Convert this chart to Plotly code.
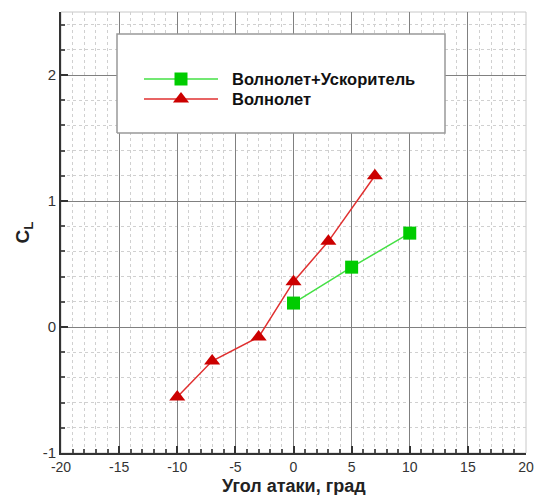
import plotly.graph_objects as go

# Data
alpha_wu = [0, 5, 10]
cl_wu = [0.19, 0.475, 0.745]
alpha_w = [-10, -7, -3, 0, 3, 7]
cl_w = [-0.555, -0.27, -0.08, 0.36, 0.68, 1.2]

x_ticks = [-20, -15, -10, -5, 0, 5, 10, 15, 20]
x_ticklabels = ["-20", "-15", "-10", "-5", "0", "5", "10", "15", "20"]
y_ticks = [-1, 0, 1, 2]
y_ticklabels = ["-1", "0", "1", "2"]

name_wu = "Волнолет+Ускоритель"
name_w = "Волнолет"
x_title = "Угол атаки, град"
y_title = "C<sub>L</sub>"

GREEN_LINE = "#44E044"
GREEN_MK = "#00CC00"
RED_LINE = "#E03030"
RED_MK = "#CC0000"
FONT = "Liberation Sans, Arial, sans-serif"

# pixel helpers for legend decoration (plot area: x 61..526, y 12..453)
def pp_x(p):
    return (p - 61) / 465

def pp_y(p):
    return (453 - p) / 441

fig = go.Figure()
fig.add_trace(go.Scatter(x=alpha_wu, y=cl_wu, mode="lines+markers", name=name_wu,
                         line=dict(color=GREEN_LINE, width=1.5),
                         marker=dict(symbol="square", size=13, color=GREEN_MK),
                         showlegend=False))
fig.add_trace(go.Scatter(x=alpha_w, y=cl_w, mode="lines+markers", name=name_w,
                         line=dict(color=RED_LINE, width=1.5),
                         marker=dict(symbol="triangle-up", size=14, color=RED_MK),
                         showlegend=False))

# Legend box (white filled) on an overlay axis spanning the plot area
bx0, bx1, by0, by1 = pp_x(117), pp_x(445), pp_y(133), pp_y(34)
fig.add_trace(go.Scatter(x=[bx0, bx1, bx1, bx0, bx0], y=[by0, by0, by1, by1, by0],
                         mode="lines", fill="toself", fillcolor="white",
                         line=dict(color="#999999", width=1.5),
                         xaxis="x2", yaxis="y2", showlegend=False, hoverinfo="skip"))
fig.add_trace(go.Scatter(x=[pp_x(144), pp_x(218)], y=[pp_y(79)] * 2, mode="lines",
                         xaxis="x2", yaxis="y2", line=dict(color=GREEN_LINE, width=1.5),
                         showlegend=False, hoverinfo="skip"))
fig.add_trace(go.Scatter(x=[pp_x(144), pp_x(218)], y=[pp_y(99)] * 2, mode="lines",
                         xaxis="x2", yaxis="y2", line=dict(color=RED_LINE, width=1.5),
                         showlegend=False, hoverinfo="skip"))
fig.add_trace(go.Scatter(x=[pp_x(181)], y=[pp_y(79)], mode="markers", xaxis="x2", yaxis="y2",
                         marker=dict(symbol="square", size=13, color=GREEN_MK),
                         showlegend=False, hoverinfo="skip"))
fig.add_trace(go.Scatter(x=[pp_x(181)], y=[pp_y(99)], mode="markers", xaxis="x2", yaxis="y2",
                         marker=dict(symbol="triangle-up", size=14, color=RED_MK),
                         showlegend=False, hoverinfo="skip"))

shapes = [
    # light frame top/right
    dict(type="rect", xref="paper", yref="paper", x0=0, x1=1, y0=0, y1=1,
         line=dict(color="#C8C8C8", width=1), layer="below"),
]

annotations = [
    dict(xref="paper", yref="paper", x=pp_x(230), y=pp_y(79), text="<b>"+name_wu+"</b>",
         showarrow=False, xanchor="left", yanchor="middle",
         font=dict(family=FONT, size=16.5, color="#111111")),
    dict(xref="paper", yref="paper", x=pp_x(230), y=pp_y(99), text="<b>"+name_w+"</b>",
         showarrow=False, xanchor="left", yanchor="middle",
         font=dict(family=FONT, size=16.5, color="#111111")),
    # x-axis title
    dict(xref="paper", yref="paper", x=0.5, y=pp_y(495), text="<b>"+x_title+"</b>",
         showarrow=False, xanchor="center", yanchor="bottom", yshift=-3,
         font=dict(family=FONT, size=18, color="#222222")),
]

fig.update_layout(
    width=534, height=495,
    margin=dict(l=61, r=8, t=12, b=42, autoexpand=False),
    paper_bgcolor="white", plot_bgcolor="white",
    font=dict(family=FONT, size=15, color="#333333"),
    shapes=shapes, annotations=annotations,
    xaxis=dict(range=[-20, 20], tickmode="array", tickvals=x_ticks, ticktext=x_ticklabels,
               showgrid=True, gridcolor="#808080", gridwidth=1, ticklabeloverflow="allow",
               automargin=False,
               zeroline=False, showline=True, linecolor="#333333", linewidth=2,
               ticks="inside", ticklen=7, tickcolor="#333333", tickwidth=1.5,
               minor=dict(dtick=1, tick0=0, showgrid=True, gridcolor="#D0D0D0", griddash="dot",
                          ticks="inside", ticklen=4, tickcolor="#555555"),
               tickfont=dict(size=14, color="#333333")),
    yaxis=dict(range=[-1, 2.5], tickmode="array", tickvals=y_ticks, ticktext=y_ticklabels,
               showgrid=True, gridcolor="#808080", gridwidth=1, ticklabeloverflow="allow",
               automargin=False,
               zeroline=False, showline=True, linecolor="#333333", linewidth=2,
               ticks="inside", ticklen=7, tickcolor="#333333", tickwidth=1.5,
               minor=dict(dtick=0.2, tick0=0, showgrid=True, gridcolor="#D0D0D0", griddash="dot",
                          ticks="inside", ticklen=4, tickcolor="#555555"),
               title=dict(text="<b>"+y_title+"</b>", font=dict(size=19, color="#222222"), standoff=8),
               tickfont=dict(size=15, color="#333333")),
    xaxis2=dict(range=[0, 1], domain=[0, 1], overlaying="x", visible=False, anchor="y2",
                automargin=False),
    yaxis2=dict(range=[0, 1], domain=[0, 1], overlaying="y", visible=False, anchor="x2",
                automargin=False),
)

fig.write_html("out.html")
